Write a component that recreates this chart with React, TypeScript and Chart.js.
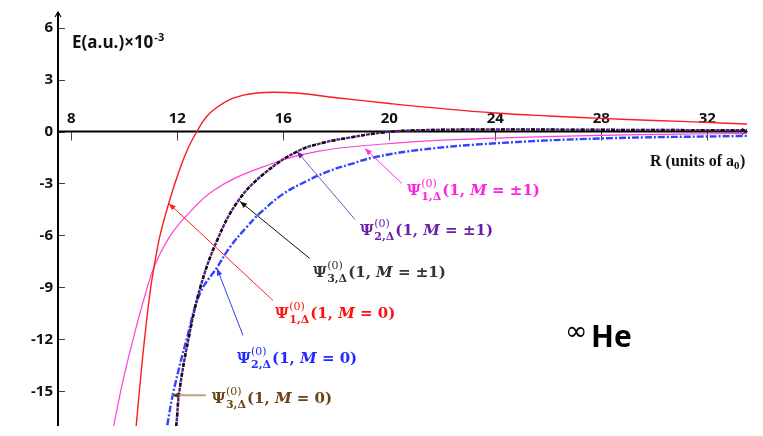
import React, { useEffect, useRef } from 'react';
import { Chart, registerables } from 'chart.js';

Chart.register(...registerables);

// ---- axis ranges & ticks ----
const X_MIN = 7.5;
const X_MAX = 33.5;
const Y_MIN = -17;
const Y_MAX = 6.9;
const xTicks = [8, 12, 16, 20, 24, 28, 32];
const yTicks = [6, 3, 0, -3, -6, -9, -12, -15];

// ---- series (R in a0, E in 1e-3 a.u.) ----
const psi1M0X = [10.38, 10.45, 10.6, 10.8, 11.0, 11.15, 11.35, 11.65, 12.0, 12.37, 12.74, 13.1, 13.5, 14.0, 14.5, 15.0, 15.6, 16.5, 18, 20, 22, 24, 26, 28, 30, 32, 33.5];
const psi1M0Y = [-18, -17, -14.5, -11.5, -9.0, -7.6, -6.0, -4.3, -2.6, -1.1, 0, 0.85, 1.4, 1.85, 2.1, 2.22, 2.27, 2.22, 1.95, 1.62, 1.32, 1.07, 0.9, 0.76, 0.64, 0.53, 0.43];

const psi1M1X = [9.48, 9.6, 9.95, 10.35, 10.7, 11.13, 11.7, 12.3, 13.37, 15.13, 17.3, 19.8, 22, 24.6, 28, 31, 33.5];
const psi1M1Y = [-17.9, -17, -14.4, -11.9, -9.9, -7.8, -6.1, -4.94, -3.4, -2.1, -1.15, -0.72, -0.5, -0.35, -0.22, -0.15, -0.11];

const psi2M0X = [11.55, 11.62, 11.86, 12.37, 12.87, 13.5, 14.0, 14.63, 15.13, 16.0, 16.9, 17.7, 18.5, 19.4, 21.2, 24, 28, 33.5];
const psi2M0Y = [-17.7, -17, -15, -11.9, -9.3, -7.85, -6.65, -5.5, -4.7, -3.6, -2.85, -2.3, -1.9, -1.5, -1.05, -0.68, -0.4, -0.25];

const psi2M1X = [11.9, 11.96, 12.08, 12.42, 12.87, 13.5, 14.3, 15.3, 16.53, 17.5, 18.5, 19.8, 21, 24, 28, 33.5];
const psi2M1Y = [-17.6, -17, -15, -12, -9, -6.3, -4.0, -2.4, -1.15, -0.65, -0.35, -0.05, 0.07, 0.12, 0.1, 0.07];

const psi3M1X = [11.9, 11.96, 12.08, 12.42, 12.87, 13.5, 14.3, 15.3, 16.53, 17.5, 18.5, 19.8, 21, 24, 28, 33.5];
const psi3M1Y = [-17.6, -17, -15, -12, -9, -6.3, -4.0, -2.4, -1.15, -0.65, -0.35, -0.05, 0.07, 0.12, 0.1, 0.07];

const psi3M0X = [11.9, 11.96, 12.08, 12.42, 12.87, 13.5, 14.3, 15.3, 16.53, 17.5, 18.5, 19.8, 21, 24, 28, 33.5];
const psi3M0Y = [-17.6, -17, -15, -12, -9, -6.3, -4.0, -2.4, -1.15, -0.65, -0.35, -0.05, 0.07, 0.12, 0.1, 0.07];

// ---- annotation labels (data coords) ----
const labelN = ['1', '2', '3', '1', '2', '3'];
const labelM = ['\u00b11', '\u00b11', '\u00b11', '0', '0', '0'];
const labelColors = ['#ff22e0', '#6a1fa8', '#333333', '#ff1010', '#1f2bff', '#6b4214'];
const arrowColors = ['#ff30e0', '#8a4ac0', '#111111', '#ff2020', '#3040ff', '#b8a488'];
const headColors = ['#ff30e0', '#6a1fa8', '#111111', '#ff2020', '#3040ff', '#5a3510'];
const headX = [19.08, 16.52, 14.37, 11.68, 13.5, 11.8];
const headY = [-0.98, -1.15, -4.04, -4.15, -7.9, -15.23];
const tailX = [20.48, 18.71, 17.0, 15.61, 14.48, 13.08];
const tailY = [-3.0, -5.08, -7.33, -9.75, -11.77, -15.23];
const textX = [20.67, 18.9, 17.12, 15.69, 14.25, 13.3];
const textY = [-3.69, -6.0, -8.42, -10.79, -13.39, -15.7];

const toPts = (xs: number[], ys: number[]) => xs.map((x, i) => ({ x, y: ys[i] }));

const MATH_FONT = '"DejaVu Serif"';
const MATH_SIZE = 15;

function drawPsi(ctx: CanvasRenderingContext2D, x: number, y: number, n: string, m: string, color: string) {
  ctx.save();
  ctx.fillStyle = color;
  ctx.textAlign = 'left';
  ctx.textBaseline = 'alphabetic';
  const s = MATH_SIZE;
  ctx.font = `bold ${s}px ${MATH_FONT}`;
  ctx.fillText('\u03a8', x, y);
  let cx = x + ctx.measureText('\u03a8').width + 0.5;
  const small = Math.round(s * 0.72);
  ctx.font = `bold ${small}px ${MATH_FONT}`;
  const sub = `${n},\u0394`;
  const subW = ctx.measureText(sub).width;
  ctx.fillText(sub, cx, y + s * 0.3);
  ctx.font = `${small}px ${MATH_FONT}`;
  const supW = ctx.measureText('(0)').width;
  ctx.fillText('(0)', cx, y - s * 0.55);
  cx += Math.max(subW, supW) + 1;
  ctx.font = `bold ${s}px ${MATH_FONT}`;
  ctx.fillText('(1, ', cx, y);
  cx += ctx.measureText('(1, ').width;
  ctx.font = `italic bold ${s}px ${MATH_FONT}`;
  ctx.fillText('M', cx, y);
  cx += ctx.measureText('M').width;
  ctx.font = `bold ${s}px ${MATH_FONT}`;
  ctx.fillText(` = ${m})`, cx, y);
  ctx.restore();
}

function drawArrow(ctx: CanvasRenderingContext2D, x0: number, y0: number, x1: number, y1: number, lineColor: string, headColor: string, lw: number) {
  ctx.save();
  ctx.strokeStyle = lineColor;
  ctx.lineWidth = lw;
  ctx.beginPath();
  ctx.moveTo(x0, y0);
  ctx.lineTo(x1, y1);
  ctx.stroke();
  const ang = Math.atan2(y1 - y0, x1 - x0);
  const L = 7;
  const W = 2.8;
  ctx.fillStyle = headColor;
  ctx.beginPath();
  ctx.moveTo(x1, y1);
  ctx.lineTo(x1 - L * Math.cos(ang) + W * Math.sin(ang), y1 - L * Math.sin(ang) - W * Math.cos(ang));
  ctx.lineTo(x1 - L * Math.cos(ang) - W * Math.sin(ang), y1 - L * Math.sin(ang) + W * Math.cos(ang));
  ctx.closePath();
  ctx.fill();
  ctx.restore();
}

const axesPlugin = {
  id: 'customAxes',
  beforeDatasetsDraw(chart: any) {
    const ctx: CanvasRenderingContext2D = chart.ctx;
    const xs = chart.scales.x;
    const ys = chart.scales.y;
    const x0 = xs.getPixelForValue(X_MIN);
    const x1 = xs.getPixelForValue(X_MAX);
    const yTop = ys.getPixelForValue(Y_MAX);
    const yBot = ys.getPixelForValue(Y_MIN);
    const yZero = ys.getPixelForValue(0);
    ctx.save();
    ctx.strokeStyle = '#444';
    ctx.lineWidth = 1;
    xTicks.forEach((t) => {
      const px = Math.round(xs.getPixelForValue(t)) + 0.5;
      ctx.beginPath();
      ctx.moveTo(px, yZero);
      ctx.lineTo(px, yZero + 9);
      ctx.stroke();
    });
    yTicks.forEach((t) => {
      const py = Math.round(ys.getPixelForValue(t)) + 0.5;
      ctx.beginPath();
      ctx.moveTo(x0, py);
      ctx.lineTo(x0 + 7, py);
      ctx.stroke();
    });
    ctx.strokeStyle = '#000';
    ctx.lineWidth = 2;
    ctx.beginPath();
    ctx.moveTo(x0, yBot);
    ctx.lineTo(x0, yTop);
    ctx.moveTo(x0, yZero);
    ctx.lineTo(x1, yZero);
    ctx.stroke();
    ctx.lineWidth = 1.2;
    ctx.beginPath();
    ctx.moveTo(x0 - 3, yTop + 5);
    ctx.lineTo(x0, yTop);
    ctx.lineTo(x0 + 3, yTop + 5);
    ctx.moveTo(x1 - 5, yZero - 3);
    ctx.lineTo(x1, yZero);
    ctx.lineTo(x1 - 5, yZero + 3);
    ctx.stroke();
    ctx.fillStyle = '#111';
    ctx.font = 'bold 15px "Open Sans"';
    ctx.textAlign = 'center';
    ctx.textBaseline = 'alphabetic';
    xTicks.forEach((t) => {
      ctx.fillText(String(t), xs.getPixelForValue(t), yZero - 9);
    });
    ctx.textAlign = 'right';
    ctx.textBaseline = 'middle';
    yTicks.forEach((t) => {
      ctx.fillText(String(t), x0 - 5, ys.getPixelForValue(t));
    });
    ctx.textAlign = 'left';
    ctx.textBaseline = 'alphabetic';
    ctx.font = 'bold 17px "Open Sans"';
    const eTxt = 'E(a.u.)\u00d710';
    ctx.fillText(eTxt, x0 + 14, 48);
    const ew = ctx.measureText(eTxt).width;
    ctx.font = 'bold 11px "Open Sans"';
    ctx.fillText('-3', x0 + 14 + ew + 1, 41);
    ctx.font = 'bold 16px "Liberation Serif"';
    const rTxt = 'R (units of a';
    ctx.fillText(rTxt, 650, 166);
    const rw = ctx.measureText(rTxt).width;
    ctx.font = 'bold 11px "Liberation Serif"';
    ctx.fillText('0', 650 + rw, 169);
    const zw = ctx.measureText('0').width;
    ctx.font = 'bold 16px "Liberation Serif"';
    ctx.fillText(')', 650 + rw + zw + 0.5, 166);
    ctx.restore();
  },
  afterDatasetsDraw(chart: any) {
    const ctx: CanvasRenderingContext2D = chart.ctx;
    const xs = chart.scales.x;
    const ys = chart.scales.y;
    for (let i = 0; i < labelN.length; i++) {
      const hx = xs.getPixelForValue(headX[i]);
      const hy = ys.getPixelForValue(headY[i]);
      const tx = xs.getPixelForValue(tailX[i]);
      const ty = ys.getPixelForValue(tailY[i]);
      drawArrow(ctx, tx, ty, hx, hy, arrowColors[i], headColors[i], i === 5 ? 2 : 1);
      drawPsi(ctx, xs.getPixelForValue(textX[i]), ys.getPixelForValue(textY[i]), labelN[i], labelM[i], labelColors[i]);
    }
    ctx.save();
    ctx.fillStyle = '#000';
    ctx.textAlign = 'left';
    ctx.textBaseline = 'alphabetic';
    ctx.font = '27px "DejaVu Sans"';
    ctx.fillText('\u221e', 565, 340);
    ctx.font = 'bold 30px "Open Sans"';
    ctx.fillText('He', 591, 347);
    ctx.restore();
  },
};

export default function App() {
  const ref = useRef<HTMLCanvasElement | null>(null);
  useEffect(() => {
    if (!ref.current) return;
    const common = { pointRadius: 0, fill: false, tension: 0.4 };
    const chart = new Chart(ref.current, {
      type: 'line',
      data: {
        datasets: [
          { ...common, label: 'Psi3 M=0', data: toPts(psi3M0X, psi3M0Y), borderColor: '#6b4214', borderWidth: 2.4, borderDash: [4, 6], order: 6 },
          { ...common, label: 'Psi1 M=1', data: toPts(psi1M1X, psi1M1Y), borderColor: '#ff40d8', borderWidth: 1.2, order: 5 },
          { ...common, label: 'Psi1 M=0', data: toPts(psi1M0X, psi1M0Y), borderColor: '#ff1a1a', borderWidth: 1.4, order: 4 },
          { ...common, label: 'Psi2 M=0', data: toPts(psi2M0X, psi2M0Y), borderColor: '#3344ff', borderWidth: 2.4, borderDash: [7, 2, 2, 2], order: 3 },
          { ...common, label: 'Psi3 M=1', data: toPts(psi3M1X, psi3M1Y), borderColor: '#111111', borderWidth: 2.4, borderDash: [4, 6], order: 2 },
          { ...common, label: 'Psi2 M=1', data: toPts(psi2M1X, psi2M1Y), borderColor: '#5b1a96', borderWidth: 2.4, borderDash: [4, 6], borderDashOffset: 5, order: 1 },
        ],
      },
      options: {
        animation: false,
        responsive: false,
        devicePixelRatio: 1,
        layout: { padding: { left: 58, right: 16, top: 12, bottom: 10 } },
        plugins: { legend: { display: false }, tooltip: { enabled: false } },
        scales: {
          x: { type: 'linear', min: X_MIN, max: X_MAX, display: false },
          y: { type: 'linear', min: Y_MIN, max: Y_MAX, display: false },
        },
      },
      plugins: [axesPlugin],
    });
    return () => chart.destroy();
  }, []);
  return (
    <div style={{ position: 'absolute', left: 0, top: 0, width: 763, height: 436, background: '#fff' }}>
      <canvas ref={ref} width={763} height={436} />
    </div>
  );
}
